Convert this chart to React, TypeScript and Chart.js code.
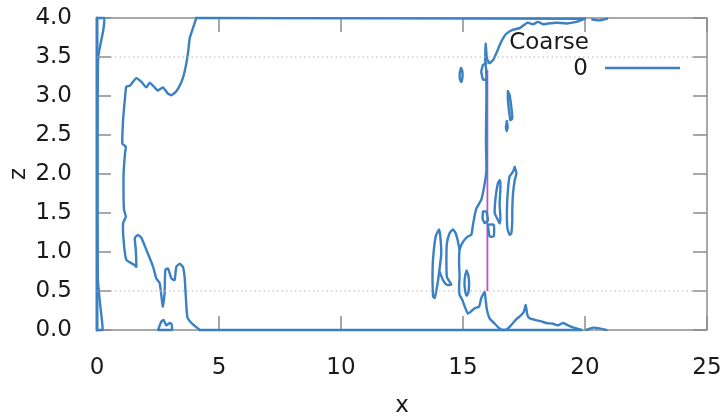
import React, { useEffect, useRef } from 'react';
import { Chart, registerables } from 'chart.js';

Chart.register(...registerables);

// ---- axis / legend data ----
const xTicks = [0, 5, 10, 15, 20, 25];
const yTicks = [0, 0.5, 1, 1.5, 2, 2.5, 3, 3.5, 4];
const refLines = [0.5, 3.5];
const legendTitle = 'Coarse';
const seriesLabel = '0';
const xTitle = 'x';
const yTitle = 'z';

// ---- contour "0" polylines (x, z) ----
const leftEdge = [[0, 0], [0, 4]];
const leftInner = [[0, 4], [0.29, 4.0], [0.26, 3.85], [0.05, 3.5], [0.02, 2.3], [0.03, 0.68], [0.11, 0.38], [0.23, 0], [0, 0]];
const leftBig = [
  [4.07, 4.0], [3.93, 3.87], [3.8, 3.74], [3.73, 3.55], [3.59, 3.31], [3.46, 3.18], [3.25, 3.06], [3.05, 3.01],
  [2.91, 3.03], [2.7, 3.11], [2.5, 3.07], [2.36, 3.11], [2.16, 3.17], [2.02, 3.11], [1.82, 3.18], [1.61, 3.23],
  [1.34, 3.13], [1.2, 3.12], [1.14, 2.95], [1.07, 2.69], [1.04, 2.39], [1.18, 2.35], [1.15, 2.27], [1.09, 2.01],
  [1.09, 1.67], [1.11, 1.54], [1.18, 1.45], [1.07, 1.37], [1.09, 1.15], [1.2, 0.9], [1.55, 0.83], [1.61, 0.81],
  [1.59, 1.03], [1.55, 1.18], [1.68, 1.22], [1.82, 1.18], [2.02, 1.03], [2.3, 0.81], [2.43, 0.66], [2.57, 0.6],
  [2.66, 0.38], [2.7, 0.3], [2.77, 0.47], [2.8, 0.77], [2.91, 0.79], [3.05, 0.66], [3.18, 0.64], [3.25, 0.81],
  [3.39, 0.85], [3.52, 0.81], [3.59, 0.68], [3.64, 0.43], [3.7, 0.17], [3.87, 0.09], [4.14, 0.02], [4.21, 0],
];
const topEdge = [[4.07, 4.0], [19.99, 3.99]];
const bottomEdge = [[4.21, 0], [19.85, 0]];
const rightBig = [
  [19.99, 3.99], [19.65, 3.95], [19.24, 3.93], [18.83, 3.94], [18.48, 3.93], [18.28, 3.92], [18.07, 3.95], [17.87, 3.92],
  [17.65, 3.94], [17.32, 3.87], [17.05, 3.85], [16.78, 3.8], [16.64, 3.74], [16.5, 3.65], [16.37, 3.55], [16.23, 3.46],
  [16.09, 3.42], [15.98, 3.48], [15.93, 3.67], [15.91, 3.46], [15.95, 3.33], [15.96, 2.95], [15.94, 2.44], [15.96, 2.05],
  [15.89, 1.88], [15.75, 1.67], [15.55, 1.56], [15.48, 1.47], [15.41, 1.35], [15.34, 1.22], [15.2, 1.2], [15.0, 1.13],
  [14.86, 1.03], [14.84, 0.86], [14.86, 0.68], [14.84, 0.56], [14.86, 0.45], [14.98, 0.38], [15.07, 0.3], [15.2, 0.21],
  [15.3, 0.23], [15.48, 0.28], [15.66, 0.3], [15.75, 0.41], [15.89, 0.49], [15.93, 0.38], [15.98, 0.26], [16.09, 0.15],
  [16.3, 0.08], [16.5, 0.02], [16.64, 0], [16.8, 0.01], [16.94, 0.05], [17.05, 0.09], [17.19, 0.14], [17.35, 0.18],
  [17.49, 0.23], [17.57, 0.32], [17.64, 0.19], [17.73, 0.15], [17.94, 0.13], [18.21, 0.11], [18.42, 0.09], [18.69, 0.08],
  [18.89, 0.06], [19.1, 0.09], [19.37, 0.05], [19.65, 0.02], [19.85, 0],
];
const islandBottomLeft = [[2.5, 0], [2.64, 0.11], [2.73, 0.13], [2.84, 0.06], [2.98, 0.09], [3.05, 0.08], [3.07, 0], [2.5, 0]];
const islandBottomRight = [[20.06, 0], [20.33, 0.03], [20.6, 0.02], [20.88, 0]];
const islandTopRight = [[20.3, 3.98], [20.6, 3.97], [20.9, 3.99]];
const islandD = [[13.77, 0.43], [13.75, 0.64], [13.77, 0.9], [13.88, 1.2], [14.02, 1.29], [14.07, 1.2], [14.11, 0.98], [14.05, 0.81], [13.98, 0.64], [13.91, 0.51], [13.84, 0.41], [13.77, 0.43]];
const branchE = [[14.05, 0.74], [14.18, 0.64], [14.33, 0.58], [14.52, 0.58], [14.34, 0.68], [14.32, 0.9], [14.34, 1.11], [14.45, 1.24], [14.59, 1.29], [14.7, 1.24], [14.78, 1.15], [14.86, 1.03]];
const islandF = [[15.15, 0.76], [15.22, 0.7], [15.25, 0.6], [15.22, 0.48], [15.15, 0.44], [15.09, 0.5], [15.06, 0.6], [15.09, 0.7], [15.15, 0.76]];
const islandSmallTop = [[14.92, 3.36], [14.97, 3.32], [14.98, 3.25], [14.93, 3.18], [14.87, 3.22], [14.87, 3.3], [14.92, 3.36]];
const loopNearTop = [[15.96, 3.42], [15.82, 3.4], [15.75, 3.31], [15.82, 3.21], [15.96, 3.21]];
const islandG = [[16.84, 3.06], [16.91, 3.01], [16.98, 2.86], [17.02, 2.71], [16.94, 2.69], [16.89, 2.8], [16.84, 2.95], [16.84, 3.06]];
const islandH = [[16.8, 2.68], [16.83, 2.6], [16.79, 2.55], [16.76, 2.6], [16.8, 2.68]];
const islandB = [[16.5, 1.92], [16.43, 1.88], [16.34, 1.71], [16.3, 1.5], [16.43, 1.41], [16.5, 1.37], [16.53, 1.45], [16.5, 1.62], [16.53, 1.79], [16.53, 1.9], [16.5, 1.92]];
const islandC = [[17.12, 2.09], [17.05, 2.03], [16.91, 1.97], [16.84, 1.79], [16.8, 1.54], [16.82, 1.3], [16.91, 1.22], [16.98, 1.24], [17.02, 1.4], [17.02, 1.54], [17.05, 1.75], [17.12, 1.92], [17.19, 2.01], [17.12, 2.09]];
const loopS1 = [[15.82, 1.52], [15.8, 1.43], [15.89, 1.37], [16.02, 1.41], [15.95, 1.52], [15.82, 1.52]];
const loopS2 = [[16.02, 1.35], [16.09, 1.2], [16.26, 1.2], [16.26, 1.35], [16.02, 1.35]];

// magenta vertical line
const probeLine = [[16, 0.5], [16, 3.33]];

const contours = [
  leftEdge, leftInner, leftBig, topEdge, bottomEdge, rightBig, islandBottomLeft, islandBottomRight,
  islandTopRight, islandD, branchE, islandF, islandSmallTop, loopNearTop, islandG, islandH, islandB,
  islandC, loopS1, loopS2,
];

const BLUE = '#3a80c2';
const MAGENTA = '#c050c4';
const FONT = "'DejaVu Sans', sans-serif";
const FS = 23;

const toPts = (arr: number[][]) => arr.map(([x, y]) => ({ x, y }));

const framePlugin = {
  id: 'gnuFrame',
  beforeDatasetsDraw(chart: any) {
    const { ctx, chartArea, scales } = chart;
    const { left, right, top, bottom } = chartArea;
    ctx.save();
    ctx.strokeStyle = '#8c8c8c';
    ctx.lineWidth = 1.5;
    ctx.strokeRect(left, top, right - left, bottom - top);
    ctx.beginPath();
    const tl = 14;
    for (const v of yTicks) {
      const py = scales.y.getPixelForValue(v);
      ctx.moveTo(left, py); ctx.lineTo(left + tl, py);
      ctx.moveTo(right, py); ctx.lineTo(right - tl, py);
    }
    for (const v of xTicks) {
      const px = scales.x.getPixelForValue(v);
      ctx.moveTo(px, bottom); ctx.lineTo(px, bottom - tl);
      ctx.moveTo(px, top); ctx.lineTo(px, top + tl);
    }
    ctx.stroke();
    ctx.restore();
  },
  afterDatasetsDraw(chart: any) {
    const { ctx } = chart;
    ctx.save();
    ctx.fillStyle = '#1a1a1a';
    ctx.font = `${FS}px ${FONT}`;
    ctx.textAlign = 'right';
    ctx.textBaseline = 'middle';
    ctx.fillText(legendTitle, 589, 43);
    ctx.fillText(seriesLabel, 588, 69);
    ctx.strokeStyle = BLUE;
    ctx.lineWidth = 2.4;
    ctx.beginPath();
    ctx.moveTo(605, 68);
    ctx.lineTo(680, 68);
    ctx.stroke();
    ctx.restore();
  },
};

const noPad = (s: any) => {
  s.paddingTop = 0;
  s.paddingBottom = 0;
  s.paddingLeft = 0;
  s.paddingRight = 0;
};

export default function App() {
  const ref = useRef<HTMLCanvasElement | null>(null);
  useEffect(() => {
    document.body.style.margin = '0';
    const canvas = ref.current;
    if (!canvas) return;
    const datasets: any[] = [];
    refLines.forEach((v) => {
      datasets.push({
        data: [{ x: 0, y: v }, { x: 25, y: v }],
        borderColor: '#b4b4b4',
        borderWidth: 1,
        borderDash: [1.5, 3],
        showLine: true,
        pointRadius: 0,
      });
    });
    contours.forEach((c, i) => {
      datasets.push({
        label: i === 0 ? seriesLabel : '',
        data: toPts(c),
        borderColor: BLUE,
        borderWidth: i === 0 ? 3 : 2.4,
        borderJoinStyle: 'round',
        borderCapStyle: 'round',
        showLine: true,
        pointRadius: 0,
        tension: 0.15,
        clip: 6,
      });
    });
    datasets.push({
      data: toPts(probeLine),
      borderColor: MAGENTA,
      borderWidth: 1.8,
      showLine: true,
      pointRadius: 0,
      clip: 6,
    });
    const chart = new Chart(canvas, {
      type: 'scatter',
      data: { datasets },
      options: {
        responsive: false,
        animation: false,
        layout: { padding: { top: 18, right: 21, left: 0, bottom: 0 } },
        plugins: { legend: { display: false }, tooltip: { enabled: false } },
        scales: {
          x: {
            type: 'linear',
            min: 0,
            max: 25,
            afterFit: (s: any) => { s.height = 86; noPad(s); },
            grid: { display: false, drawTicks: false },
            border: { display: false },
            ticks: {
              stepSize: 5,
              padding: 24,
              color: '#1a1a1a',
              font: { family: FONT, size: FS },
              maxRotation: 0,
            },
            title: {
              display: true,
              text: xTitle,
              color: '#1a1a1a',
              font: { family: FONT, size: FS, lineHeight: 0.85 },
              padding: 0,
            },
          },
          y: {
            type: 'linear',
            min: 0,
            max: 4,
            afterFit: (s: any) => { s.width = 97; noPad(s); },
            grid: { display: false, drawTicks: false },
            border: { display: false },
            ticks: {
              stepSize: 0.5,
              padding: 25,
              color: '#1a1a1a',
              font: { family: FONT, size: FS },
              callback: (v: any) => Number(v).toFixed(1),
            },
            title: {
              display: true,
              text: yTitle,
              color: '#1a1a1a',
              font: { family: FONT, size: FS, lineHeight: 1 },
              padding: { top: 8, bottom: 0 },
            },
          },
        },
      },
      plugins: [framePlugin],
    } as any);
    return () => chart.destroy();
  }, []);
  return (
    <div style={{ width: 728, height: 416 }}>
      <canvas ref={ref} width={728} height={416} style={{ display: 'block' }} />
    </div>
  );
}
